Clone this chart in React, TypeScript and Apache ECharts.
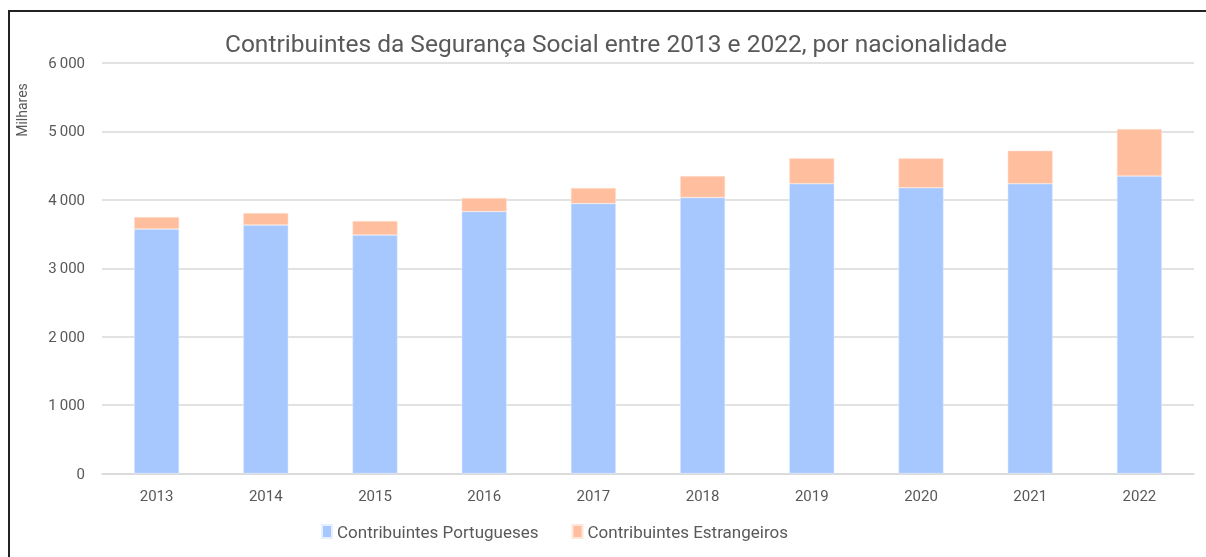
import React, { useEffect, useRef } from "react";
import * as echarts from "echarts";

const years = ["2013", "2014", "2015", "2016", "2017", "2018", "2019", "2020", "2021", "2022"];
const portugueses = [3573, 3632, 3486, 3829, 3946, 4034, 4236, 4177, 4236, 4348];
const estrangeiros = [176, 175, 205, 198, 227, 314, 371, 430, 482, 687];
const yTicks = [0, 1000, 2000, 3000, 4000, 5000, 6000];

const fmt = (v: number) => (v >= 1000 ? `${Math.floor(v / 1000)}\u2009${String(v % 1000).padStart(3, "0")}` : String(v));

export default function App() {
  const ref = useRef<HTMLDivElement>(null);
  useEffect(() => {
    if (!ref.current) return;
    const chart = echarts.init(ref.current, undefined, { renderer: "svg" });
    const font = "Roboto, 'Liberation Sans', Arial, sans-serif";
    chart.setOption({
      animation: false,
      backgroundColor: "transparent",
      title: {
        text: "Contribuintes da Segurança Social entre 2013 e 2022, por nacionalidade",
        left: 611,
        textAlign: "center",
        top: 26,
        textStyle: { fontFamily: font, fontSize: 24.5, fontWeight: "normal", color: "#595959" },
      },
      graphic: [
        {
          type: "text",
          x: 22,
          y: 110,
          rotation: Math.PI / 2,
          style: {
            text: "Milhares",
            fontFamily: font,
            fontSize: 14,
            fill: "#595959",
            textAlign: "center",
            textVerticalAlign: "middle",
          },
        },
      ],
      legend: {
        left: 316,
        top: 518,
        itemWidth: 10,
        itemHeight: 13,
        itemGap: 33,
        icon: "rect",
        textStyle: { fontFamily: font, fontSize: 17, color: "#595959" },
        data: ["Contribuintes Portugueses", "Contribuintes Estrangeiros"],
      },
      grid: { left: 102, right: 12, top: 63, bottom: 557 - 473.5, containLabel: false },
      xAxis: {
        type: "category",
        data: years,
        axisLine: { show: true, lineStyle: { color: "#d9d9d9", width: 1.5 } },
        axisTick: { show: false },
        axisLabel: { fontFamily: font, fontSize: 15, color: "#595959", margin: 15 },
      },
      yAxis: {
        type: "value",
        min: yTicks[0],
        max: yTicks[yTicks.length - 1],
        interval: 1000,
        axisLine: { show: false },
        axisTick: { show: false },
        splitLine: { lineStyle: { color: "#d9d9d9", width: 1.5 } },
        axisLabel: {
          fontFamily: font,
          fontSize: 15,
          color: "#595959",
          margin: 17,
          formatter: (v: number) => fmt(v),
        },
      },
      series: [
        {
          name: "Contribuintes Portugueses",
          type: "bar",
          stack: "total",
          barWidth: 45,
          data: portugueses,
          itemStyle: { color: "#a7c8ff", borderColor: "#e6efff", borderWidth: 0.5 },
        },
        {
          name: "Contribuintes Estrangeiros",
          type: "bar",
          stack: "total",
          barWidth: 45,
          data: estrangeiros,
          itemStyle: { color: "#ffbf9f", borderColor: "#ffe6da", borderWidth: 0.5 },
        },
      ],
    });
    return () => chart.dispose();
  }, []);
  return (
    <>
      <div
        style={{
          position: "fixed",
          left: 8,
          top: 10,
          width: 1300,
          height: 700,
          borderLeft: "2px solid #222",
          borderTop: "2px solid #222",
          boxSizing: "border-box",
        }}
      />
      <div ref={ref} style={{ position: "fixed", left: 0, top: 0, width: 1206, height: 557 }} />
    </>
  );
}
